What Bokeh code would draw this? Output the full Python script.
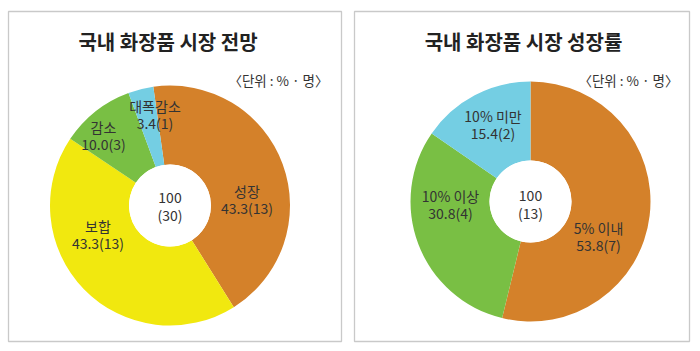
import math
from bokeh.plotting import figure
from bokeh.models import ColumnDataSource, Range1d
from bokeh.core.properties import value
from bokeh.embed import file_html
from bokeh.resources import INLINE

# ---------------- data ----------------
left_title = "국내 화장품 시장 전망"
left_cats = ["성장", "보합", "감소", "대폭감소"]
left_pct = [43.3, 43.3, 10.0, 3.4]
left_cnt = [13, 13, 3, 1]
left_total_pct = 100
left_total_cnt = 30

right_title = "국내 화장품 시장 성장률"
right_cats = ["5% 이내", "10% 이상", "10% 미만"]
right_pct = [53.8, 30.8, 15.4]
right_cnt = [7, 4, 2]
right_total_pct = 100
right_total_cnt = 13

unit_text = "〈단위 : % · 명〉"

# ---------------- style / layout ----------------
W, H = 700, 351
FONT = "Noto Sans CJK KR"
left_colors = ["#D4812A", "#F1E80F", "#79BF44", "#74CEE3"]
right_colors = ["#D4812A", "#79BF44", "#74CEE3"]
TXT = "#333333"

panels = [
    dict(x0=8, x1=341, title=left_title, cats=left_cats, pct=left_pct, cnt=left_cnt,
         tp=left_total_pct, tc=left_total_cnt, colors=left_colors,
         cx=169.5, cy=205, start_cw=-8.0, title_x=167.5, unit_x=328,
         label_pos=[(246.5, 190), (97.5, 225), (103, 126), (154.5, 105)],
         center_y=197),
    dict(x0=354, x1=689, title=right_title, cats=right_cats, pct=right_pct, cnt=right_cnt,
         tp=right_total_pct, tc=right_total_cnt, colors=right_colors,
         cx=530, cy=201, start_cw=0.0, title_x=523, unit_x=678,
         label_pos=[(598, 227), (450, 195), (492.5, 115)],
         center_y=195),
]
R_OUT, R_IN = 120, 41
LINE = 17

p = figure(width=W, height=H, output_backend="svg", toolbar_location=None,
           x_range=Range1d(0, W), y_range=Range1d(0, H), min_border=0,
           x_axis_location=None, y_axis_location=None)
p.grid.visible = False
p.outline_line_color = None
p.background_fill_color = "white"
p.border_fill_color = "white"


def Y(sy):
    return H - sy


for pn in panels:
    # panel frame
    p.quad(left=[pn["x0"]], right=[pn["x1"]], bottom=[Y(341)], top=[Y(11)],
           fill_color=None, line_color="#C9C9C9", line_width=1.3)

    # wedges from data
    total = sum(pn["pct"])
    cw = pn["start_cw"]
    starts, ends = [], []
    for v in pn["pct"]:
        a = cw
        b = cw + v / total * 360.0
        starts.append(math.radians(90 - b))
        ends.append(math.radians(90 - a))
        cw = b
    src = ColumnDataSource(dict(start=starts, end=ends, color=pn["colors"]))
    p.annular_wedge(x=pn["cx"], y=Y(pn["cy"]), inner_radius=R_IN, outer_radius=R_OUT,
                    start_angle="start", end_angle="end", direction="anticlock",
                    fill_color="color", line_color=None, source=src)
    p.circle(x=[pn["cx"]], y=[Y(pn["cy"])], radius=R_IN, fill_color="white", line_color=None)

    # title
    p.text(x=[pn["title_x"]], y=[Y(41)], text=[pn["title"]], text_font=value(FONT),
           text_font_size="20px", text_font_style="bold", text_color="#222222",
           text_align="center", text_baseline="middle")
    # unit
    p.text(x=[pn["unit_x"]], y=[Y(79)], text=[unit_text], text_font=value(FONT),
           text_font_size="13.5px", text_color=TXT, text_align="right", text_baseline="middle")

    # slice labels
    xs, ys, ts = [], [], []
    for (lx, ly), c, v, n in zip(pn["label_pos"], pn["cats"], pn["pct"], pn["cnt"]):
        xs += [lx, lx]
        ys += [Y(ly), Y(ly + LINE)]
        ts += [c, f"{v:.1f}({n})"]
    # center label
    xs += [pn["cx"], pn["cx"]]
    ys += [Y(pn["center_y"]), Y(pn["center_y"] + LINE)]
    ts += [str(pn["tp"]), f"({pn['tc']})"]
    p.text(x=xs, y=ys, text=ts, text_font=value(FONT), text_font_size="14px",
           text_color=TXT, text_align="center", text_baseline="middle")

open("out.html", "w").write(file_html(p, INLINE))
